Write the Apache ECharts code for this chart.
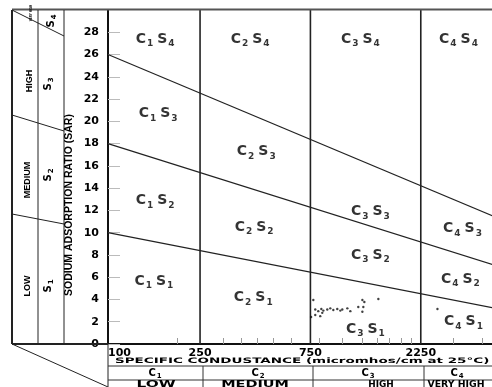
<!DOCTYPE html>
<html><head><meta charset="utf-8">
<script src="https://cdn.jsdelivr.net/npm/echarts@6/dist/echarts.min.js"></script>
<style>html,body{margin:0;padding:0;background:#fff}#c{width:492px;height:387px}</style>
</head><body><div id="c"></div>
<script>
// ---- data ----
const ecMin = 100, ecMax = 5000;
const sarMin = 0, sarMax = 30, sarStep = 2;
const xTickLabels = [100, 250, 750, 2250];
const xMinorTicks = [200, 315, 375, 440, 520, 620, 820, 1030, 1260, 1460, 1650, 1850, 2050, 3100, 4150];
const salinityBounds = [250, 750, 2250];
const lineS1S2 = [[100, 10], [5000, 3.1]];
const lineS2S3 = [[100, 18], [5000, 6.9]];
const lineS3S4 = [[100, 26], [5000, 11.2]];
const sampleEC  = [772, 1258, 1283, 1475, 1208, 1270, 2656, 787, 811, 836, 853, 887, 914, 942, 980, 1010, 1030, 1083, 1116, 755, 787, 827, 844, 1258];
const sampleSAR = [3.95, 3.95, 3.77, 4.04, 3.32, 3.32, 3.14, 3.1, 2.95, 3.15, 3.0, 3.1, 3.2, 3.05, 3.15, 3.0, 3.1, 3.2, 2.95, 2.43, 2.6, 2.5, 2.8, 2.9];
const classNames = ['C1S4','C2S4','C3S4','C4S4','C1S3','C2S3','C3S3','C4S3','C1S2','C2S2','C3S2','C4S2','C1S1','C2S1','C3S1','C4S1'];
const classEC  = [163, 420, 1258, 3340, 168, 446, 1390, 3475, 163, 437, 1390, 3406, 161, 433, 1322, 3510];
const classSAR = [27.4, 27.4, 27.4, 27.4, 20.7, 17.3, 11.9, 10.4, 12.9, 10.5, 8.0, 5.85, 5.65, 4.2, 1.35, 2.0];
const salinityNames = ['LOW', 'MEDIUM', 'HIGH', 'VERY HIGH'];

// ---- chart ----
const F = 'DejaVu Sans';
const L = 'Liberation Sans';
const INK = '#000';
const chart = echarts.init(document.getElementById('c'));

function cs(name) { return '{b|C}{s|' + name[1] + '}{b|S}{s|' + name[3] + '}'; }
const richCS = {
  b: {fontFamily: F, fontWeight: 'bold', fontSize: 14, color: INK, padding: [0, 0, 0, 0]},
  s: {fontFamily: F, fontWeight: 'bold', fontSize: 9, color: INK, padding: [10, 4, 0, 1]}
};

function seg(pts, w, c) {
  return {type: 'line', data: pts, symbol: 'none', silent: true, animation: false,
          lineStyle: {color: c || '#222', width: w || 1.2}, z: 3};
}

const series = [
  seg(lineS1S2), seg(lineS2S3), seg(lineS3S4)
];
salinityBounds.forEach(b => series.push(seg([[b, sarMin], [b, sarMax]], 1.6, '#222')));
series.push({
  type: 'scatter', symbol: 'circle', symbolSize: 2.4, silent: true, animation: false,
  itemStyle: {color: '#111'},
  data: sampleEC.map((x, i) => [x, sampleSAR[i]]), z: 4
});
series.push({
  type: 'scatter', symbolSize: 0, silent: true, animation: false, z: 5,
  data: classNames.map((n, i) => ({name: n, value: [classEC[i], classSAR[i]]})),
  label: {show: true, position: 'inside', formatter: p => cs(p.name), rich: richCS}
});

function gl(x1, y1, x2, y2, w, c) {
  return {type: 'line', silent: true, shape: {x1, y1, x2, y2}, style: {stroke: c || '#222', lineWidth: w || 1}, z: 10};
}
function gt(x, y, text, opt) {
  opt = opt || {};
  return {type: 'text', silent: true, x, y, rotation: opt.rot || 0, scaleX: opt.sx || 1, z: 10,
    style: {text, fill: INK, font: (opt.font || ('bold 9px ' + L)), align: opt.align || 'center',
            verticalAlign: 'middle', rich: opt.rich}};
}
const R90 = Math.PI / 2;
const richS = {
  a: {fontFamily: F, fontWeight: 'bold', fontSize: 10, color: INK},
  n: {fontFamily: F, fontWeight: 'bold', fontSize: 7, color: INK, padding: [7, 0, 0, 1]}
};

const graphics = [
  gl(12, 9.5, 492, 9.5, 2, '#555'),
  gl(12, 10, 12, 344, 2),
  gl(38, 10, 38, 344, 1),
  gl(64, 10, 64, 344, 1),
  gl(12, 344, 108, 344, 2),
  gl(12, 10, 64, 36, 1),
  gl(12, 115, 64, 131, 1),
  gl(12, 214, 64, 224, 1),
  gl(12, 344, 108, 387, 1),
  gl(108, 344, 108, 387, 1),
  gl(108, 366, 492, 366, 1, '#333'),
  gl(108, 380, 492, 380, 1, '#333'),
  gl(203, 366, 203, 387, 1, '#333'),
  gl(313, 366, 313, 387, 1, '#333'),
  gl(424, 366, 424, 387, 1, '#333'),
  gt(30, 81, 'HIGH', {rot: R90}),
  gt(28, 180, 'MEDIUM', {rot: R90}),
  gt(28, 286, 'LOW', {rot: R90}),
  gt(31, 13, 'VERY HIGH', {rot: R90, font: 'bold 3px ' + L}),
  gt(51, 21, '{a|S}{n|4}', {rot: R90, rich: richS}),
  gt(48, 84, '{a|S}{n|3}', {rot: R90, rich: richS}),
  gt(48, 175, '{a|S}{n|2}', {rot: R90, rich: richS}),
  gt(48, 286, '{a|S}{n|1}', {rot: R90, rich: richS}),
  gt(69, 205, 'SODIUM ADSORPTION RATIO (SAR)', {rot: R90, font: 'bold 10.5px ' + L}),
  gt(115, 361, 'SPECIFIC CONDUSTANCE (micromhos/cm at 25°C)', {align: 'left', font: 'bold 7.5px ' + F, sx: 1.8}),
  gt(155, 373, '{a|C}{n|1}', {rich: richS}),
  gt(258, 373, '{a|C}{n|2}', {rich: richS}),
  gt(368, 373, '{a|C}{n|3}', {rich: richS}),
  gt(457, 373, '{a|C}{n|4}', {rich: richS}),
  gt(156, 385, salinityNames[0], {font: 'bold 8.5px ' + F, sx: 1.8}),
  gt(255, 385, salinityNames[1], {font: 'bold 8.5px ' + F, sx: 1.7}),
  gt(381, 385, salinityNames[2], {font: 'bold 8.5px ' + F, sx: 1.05}),
  gt(456, 385, salinityNames[3], {font: 'bold 8.5px ' + F, sx: 1.1})
];

chart.setOption({
  animation: false,
  backgroundColor: '#fff',
  grid: {left: 108, top: 10, width: 393, height: 334, outerBoundsMode: 'none', containLabel: false},
  xAxis: {
    type: 'log', logBase: 10, min: ecMin, max: ecMax,
    axisLine: {show: true, onZero: false, lineStyle: {color: '#111', width: 2}},
    axisTick: {show: true, inside: true, length: 6, customValues: xMinorTicks, lineStyle: {color: '#999'}},
    axisLabel: {show: true, customValues: xTickLabels, margin: 4, alignMinLabel: 'left',
      formatter: v => String(Math.round(v)),
      fontFamily: F, fontWeight: 'bold', fontSize: 11, color: INK},
    splitLine: {show: false}, minorTick: {show: false}
  },
  yAxis: {
    type: 'value', min: sarMin, max: sarMax, interval: sarStep,
    axisLine: {show: true, lineStyle: {color: '#111', width: 2}},
    axisTick: {show: true, inside: true, length: 12, lineStyle: {color: '#bbb'}},
    axisLabel: {show: true, margin: 9, showMaxLabel: false,
      fontFamily: F, fontWeight: 'bold', fontSize: 11, color: INK},
    splitLine: {show: false}
  },
  series,
  graphic: graphics
});
</script></body></html>
